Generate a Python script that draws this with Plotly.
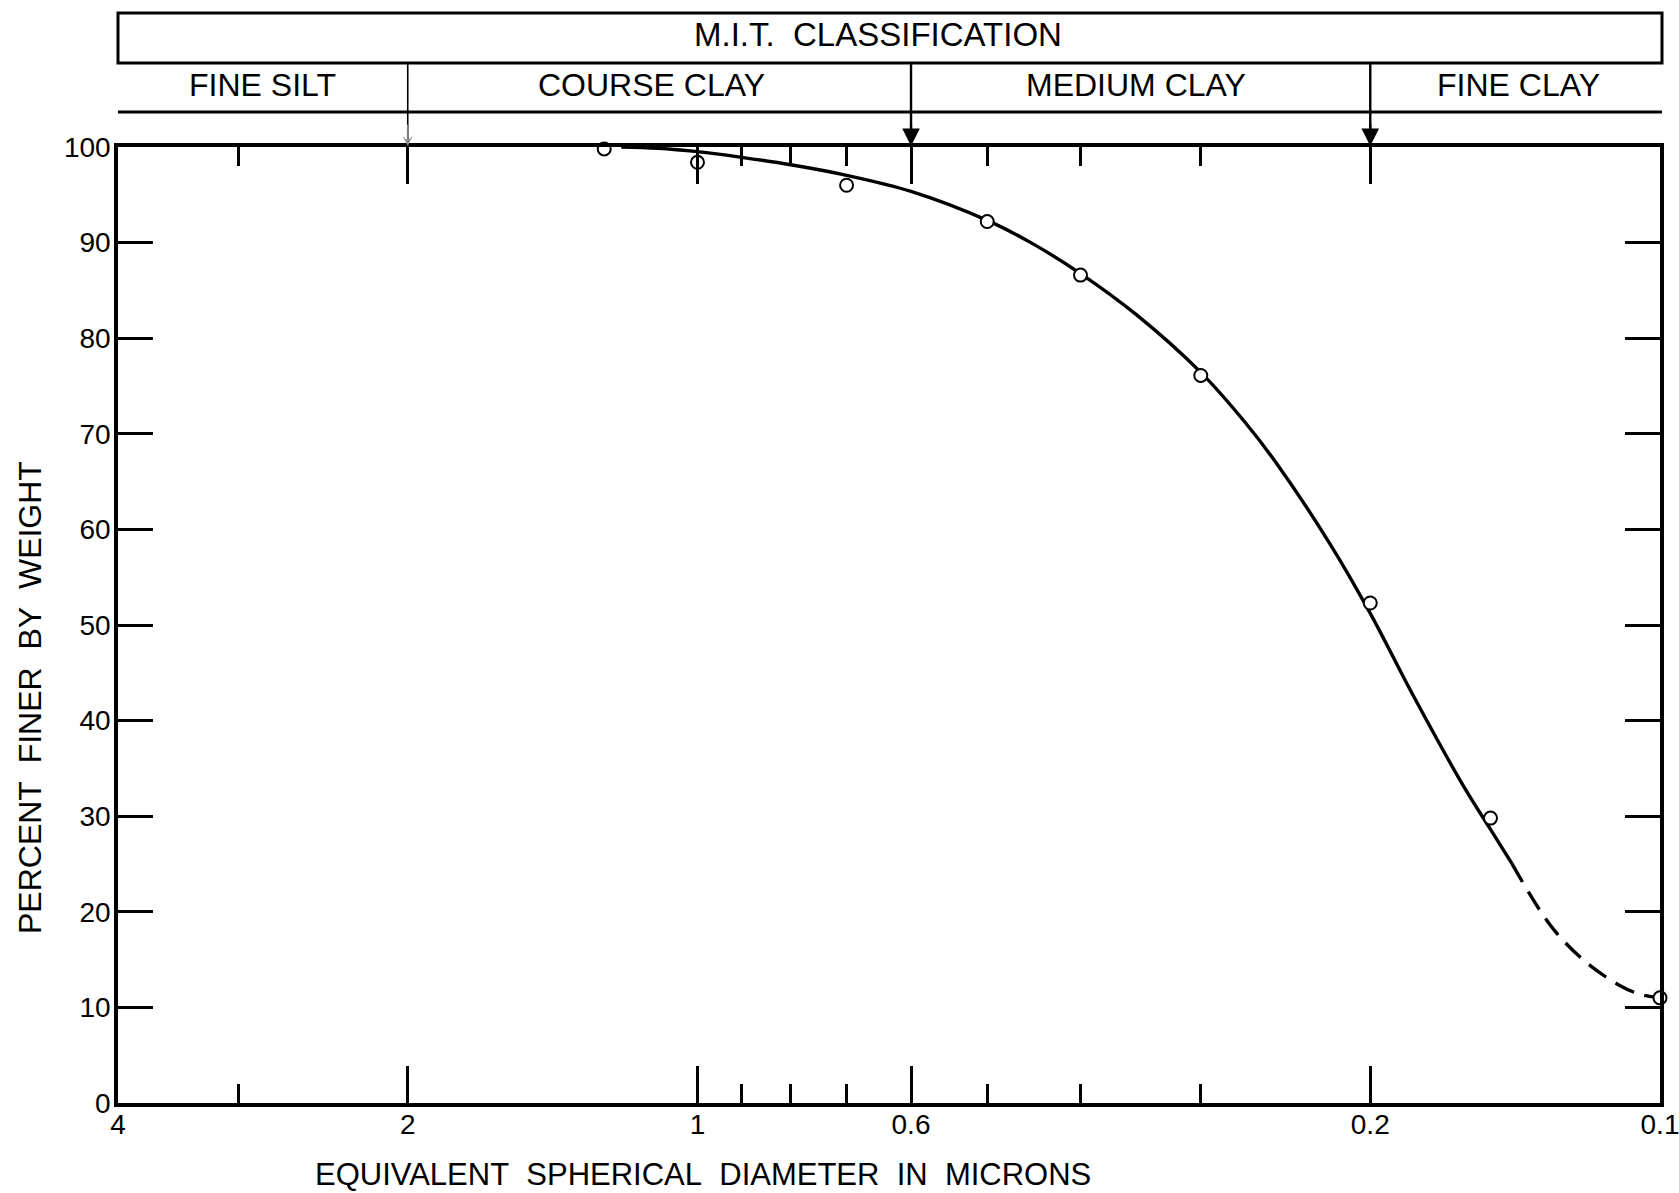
import numpy as np
import plotly.graph_objects as go

# Measured particle-size distribution (equivalent spherical diameter, microns)
size_um = [1.25, 1.0, 0.7, 0.5, 0.4, 0.3, 0.2, 0.15, 0.1]
pct_finer = [99.8, 98.4, 96.0, 92.2, 86.6, 76.1, 52.3, 29.8, 11.0]

# Hand-faired cumulative curve (solid part)
curve_um = [1.2, 1.1, 1.0, 0.9, 0.8, 0.7, 0.6, 0.5, 0.45, 0.4, 0.35, 0.3,
            0.27, 0.25, 0.22, 0.2, 0.18, 0.16, 0.15, 0.1425]
curve_pct = [100.0, 99.87, 99.51, 98.92, 98.14, 97.04, 95.36, 92.33, 89.97, 86.76, 82.46, 76.42,
             71.23, 66.85, 58.41, 51.22, 42.41, 33.14, 28.62, 25.04]

# Extrapolated tail of the curve (dashed)
tail_um = [0.1425, 0.13, 0.12, 0.11, 0.105, 0.1]
tail_pct = [25.04, 18.6, 14.93, 12.27, 11.39, 11.0]

# Axis ticks
x_major = [4, 2, 1, 0.6, 0.2, 0.1]
x_major_text = ["4", "2", "1", "0.6", "0.2", "0.1"]
x_minor = [3, 0.9, 0.8, 0.7, 0.5, 0.4, 0.3]
y_ticks = list(range(0, 101, 10))

# M.I.T. classification bands and their boundaries (microns)
class_names = ["FINE SILT", "COURSE CLAY", "MEDIUM CLAY", "FINE CLAY"]
class_bounds = [4, 2, 0.6, 0.2, 0.1]

FONT = "Liberation Sans"
W, H = 1679, 1193
L, R, T, B = 118, 19, 147, 90
L10 = np.log10
SP = "\u00a0\u00a0"

fig = go.Figure()

fig.add_trace(go.Scatter(
    x=curve_um, y=curve_pct, mode="lines",
    line=dict(color="black", width=3.4, shape="spline", smoothing=1.0),
    hoverinfo="skip", showlegend=False))

fig.add_trace(go.Scatter(
    x=tail_um, y=tail_pct, mode="lines",
    line=dict(color="black", width=3.4, shape="spline", smoothing=1.0, dash="21px,11px"),
    hoverinfo="skip", showlegend=False))

fig.add_trace(go.Scatter(
    x=size_um, y=pct_finer, mode="markers",
    marker=dict(symbol="circle", size=13, color="white",
                line=dict(color="black", width=2)),
    cliponaxis=False, showlegend=False))

axis_common = dict(
    showline=True, linewidth=3.5, linecolor="black", mirror="ticks",
    ticks="inside", tickwidth=2.5, tickcolor="black",
    showgrid=False, zeroline=False, automargin=False,
    ticklabeloverflow="allow",
)

fig.update_xaxes(
    type="log", range=[L10(4), L10(0.1)],
    tickmode="array", tickvals=x_major, ticktext=x_major_text, ticklen=37,
    tickfont=dict(family=FONT, size=28, color="black"),
    ticklabelstandoff=-6,
    minor=dict(tickmode="array", tickvals=x_minor, ticks="inside", ticklen=19,
               tickwidth=2.5, tickcolor="black", showgrid=False),
    **axis_common)

fig.update_yaxes(
    range=[0, 100], tickmode="array", tickvals=y_ticks, ticklen=35,
    tickfont=dict(family=FONT, size=28, color="black"),
    ticklabelstandoff=-2,
    **axis_common)

# pixel -> paper helpers
pw = W - L - R
ph = H - T - B


def px_x(px):
    return (px - L) / pw


def px_y(py):
    return (H - B - py) / ph


box_top, box_bot, row_bot = px_y(13), px_y(63), px_y(112)
x_right = px_x(1662)

shapes = [
    dict(type="rect", xref="paper", yref="paper", x0=0, x1=x_right,
         y0=box_bot, y1=box_top, line=dict(color="black", width=3)),
    dict(type="line", xref="paper", yref="paper", x0=0, x1=x_right,
         y0=row_bot, y1=row_bot, line=dict(color="black", width=3)),
]
# band boundaries dropping from the heading box to the chart
for b in class_bounds[1:-1]:
    shapes.append(dict(type="line", xref="x", yref="paper",
                       x0=b, x1=b, y0=box_bot, y1=1.0,
                       line=dict(color="black", width=1.6 if b == 2 else 2.4)))


def label(text, x, y, size, xref="paper", angle=0):
    return dict(text=text, xref=xref, yref="paper", x=x, y=y, showarrow=False,
                xanchor="center", yanchor="middle", textangle=angle,
                font=dict(family=FONT, size=size, color="black"))


annotations = [
    label("M.I.T." + SP + "CLASSIFICATION", px_x(878), px_y(35), 33),
    label(SP.join(["EQUIVALENT", "SPHERICAL", "DIAMETER", "IN", "MICRONS"]),
          px_x(703), px_y(1174), 31),
    label(SP.join(["PERCENT", "FINER", "BY", "WEIGHT"]),
          px_x(30), px_y(698), 32, angle=-90),
]

# band labels, roughly centred in each band
band_label_px = [262, 651, 1136, 1518]
for name, cx in zip(class_names, band_label_px):
    annotations.append(label(name, px_x(cx), px_y(85), 32))

# arrowheads where the boundaries meet the chart
for b in class_bounds[1:-1]:
    faint = b == 2
    annotations.append(dict(text="", xref="x", yref="paper", x=L10(b), y=1.0,
                            showarrow=True, ax=0, ay=-24, axref="pixel", ayref="pixel",
                            arrowhead=2 if not faint else 3,
                            arrowsize=1.6 if not faint else 1.3,
                            arrowwidth=2.2 if not faint else 1.3,
                            arrowcolor="black" if not faint else "#8a8a8a",
                            standoff=1))

fig.update_layout(
    width=W, height=H,
    margin=dict(l=L, r=R, t=T, b=B, autoexpand=False),
    paper_bgcolor="white", plot_bgcolor="white",
    shapes=shapes, annotations=annotations,
    font=dict(family=FONT, color="black"),
    showlegend=False,
)

fig.write_html("out.html")
